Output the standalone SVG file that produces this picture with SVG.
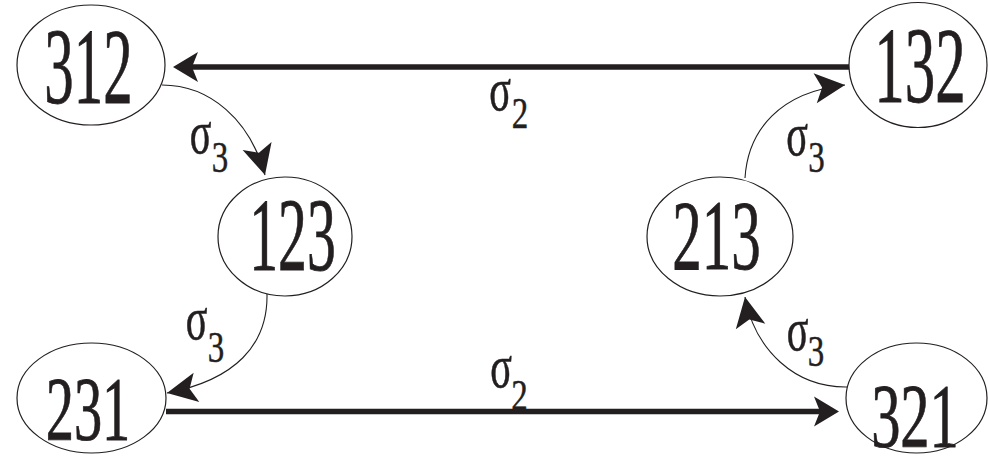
<svg xmlns="http://www.w3.org/2000/svg" width="988" height="463" viewBox="0 0 988 463">
<style>
.node ellipse{fill:#fff;stroke:#231f20;stroke-width:1.2}
.t{fill:#231f20;stroke:#231f20;stroke-width:0.8;text-anchor:middle}
.lab{font-size:62px;stroke-width:0.6}
.sub{font-size:44px;stroke-width:0.5}
.thick{fill:none;stroke:#231f20;stroke-width:5.5}
.thin{fill:none;stroke:#231f20;stroke-width:1.1}
</style>
<defs>
<marker id="big" markerUnits="userSpaceOnUse" markerWidth="1" markerHeight="1" refX="0" refY="0" orient="auto" style="overflow:visible">
<path d="M19,0 L-6,-15 L0,0 L-6,15 Z" fill="#231f20"/>
</marker>
<marker id="small" markerUnits="userSpaceOnUse" markerWidth="1" markerHeight="1" refX="0" refY="0" orient="auto" style="overflow:visible">
<path d="M0,0 L-30,-15 L-23,0 L-30,15 Z" fill="#231f20"/>
</marker>
</defs>
<rect width="988" height="463" fill="#fff"/>
<g id="connectors">
<path class="thick" d="M849,67 L192,67" marker-end="url(#big)"/>
<path class="thick" d="M166,411.5 L820,411.5" marker-end="url(#big)"/>
<path class="thin" d="M162,85 C210,85 250,120 265,175" marker-end="url(#small)"/>
<path class="thin" d="M267,294 C268,345 235,380 167,393" marker-end="url(#small)"/>
<path class="thin" d="M745,178 C748,130 780,92 845,85" marker-end="url(#small)"/>
<path class="thin" d="M848,387 C795,388 755,350 745,297" marker-end="url(#small)"/>
</g>
<g id="labels" font-family="Liberation Serif, serif">
<text class="t lab" transform="translate(500,110) scale(0.65,1)">σ</text>
<text class="t sub" transform="translate(520,128) scale(0.75,1)">2</text>
<text class="t lab" transform="translate(501,387) scale(0.65,1)">σ</text>
<text class="t sub" transform="translate(519.5,410) scale(0.75,1)">2</text>
<text class="t lab" transform="translate(200.5,153) scale(0.65,1)">σ</text>
<text class="t sub" transform="translate(220,172) scale(0.75,1)">3</text>
<text class="t lab" transform="translate(196.5,339) scale(0.65,1)">σ</text>
<text class="t sub" transform="translate(216,362) scale(0.75,1)">3</text>
<text class="t lab" transform="translate(797,155) scale(0.65,1)">σ</text>
<text class="t sub" transform="translate(816.5,172) scale(0.75,1)">3</text>
<text class="t lab" transform="translate(797.5,350) scale(0.65,1)">σ</text>
<text class="t sub" transform="translate(816,366) scale(0.75,1)">3</text>
</g>
<g id="n312" class="node" font-family="Liberation Serif, serif">
<ellipse cx="91" cy="65" rx="74" ry="60"/>
<text class="t" transform="translate(88.5,103) scale(0.55,1)" font-size="107">312</text>
</g>
<g id="n132" class="node" font-family="Liberation Serif, serif">
<ellipse cx="918" cy="65" rx="69" ry="62.5"/>
<text class="t" transform="translate(920,102) scale(0.57,1)" font-size="107">132</text>
</g>
<g id="n123" class="node" font-family="Liberation Serif, serif">
<ellipse cx="285" cy="236.5" rx="67" ry="59.5"/>
<text class="t" transform="translate(292.5,270) scale(0.56,1)" font-size="103">123</text>
</g>
<g id="n213" class="node" font-family="Liberation Serif, serif">
<ellipse cx="720" cy="236.5" rx="73" ry="59.5"/>
<text class="t" transform="translate(716.5,269) scale(0.59,1)" font-size="100">213</text>
</g>
<g id="n231" class="node" font-family="Liberation Serif, serif">
<ellipse cx="91.5" cy="398" rx="74.5" ry="55"/>
<text class="t" transform="translate(88,440) scale(0.62,1)" font-size="91">231</text>
</g>
<g id="n321" class="node" font-family="Liberation Serif, serif">
<ellipse cx="916.5" cy="398" rx="70.5" ry="55"/>
<text class="t" transform="translate(915,447) scale(0.65,1)" font-size="90">321</text>
</g>
</svg>
